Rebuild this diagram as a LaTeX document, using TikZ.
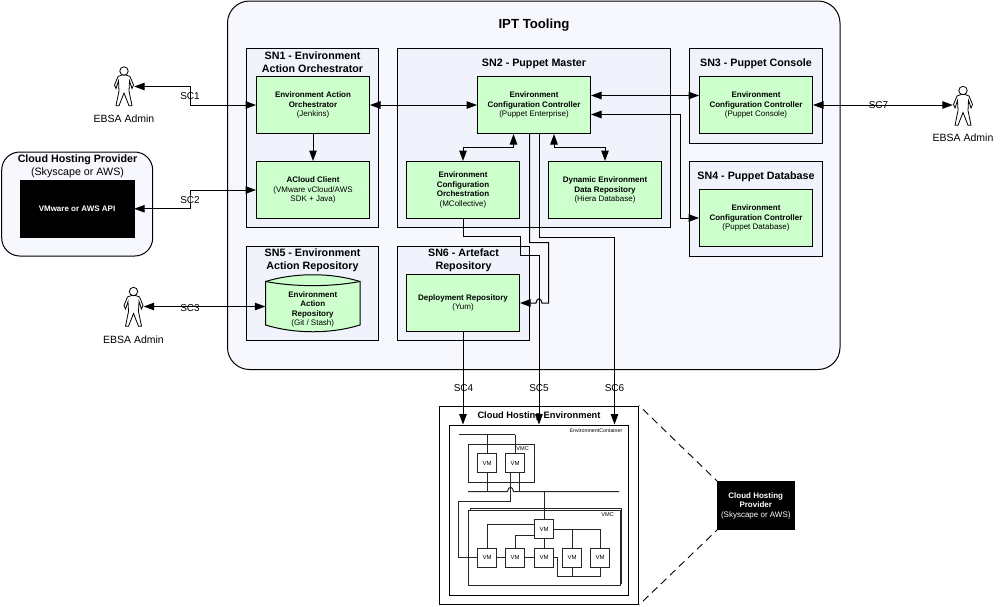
\documentclass[tikz,border=0pt]{standalone}
\usepackage{fontspec}
\setmainfont{Liberation Sans}
\usetikzlibrary{arrows.meta}
\definecolor{outerfill}{HTML}{F7F8FE}
\definecolor{snfill}{HTML}{F0F3FC}
\definecolor{greenfill}{HTML}{CCFFCC}
\tikzset{
  conn/.style={draw=black,line width=1pt,line join=miter},
  head/.style={conn,-{Triangle[length=10.5pt,width=7.5pt]}},
  both/.style={conn,{Triangle[length=10.5pt,width=7.5pt]}-{Triangle[length=10.5pt,width=7.5pt]}},
  wire/.style={draw=black!85,line width=1pt},
  sn/.style={draw=black,line width=1pt,fill=snfill,inner sep=0pt},
  gbox/.style={draw=black,line width=1pt,fill=greenfill,inner sep=0pt,minimum width=113pt,minimum height=57pt,align=center,font=\fontsize{8pt}{9.5pt}\selectfont\bfseries},
  sntitle/.style={inner sep=0pt,align=center,font=\fontsize{10.7pt}{13pt}\selectfont\bfseries},
  sclabel/.style={inner sep=0pt,font=\fontsize{10pt}{12pt}\selectfont},
  adminlabel/.style={inner sep=0pt,font=\fontsize{10.5pt}{12pt}\selectfont},
  blackbox/.style={draw=black,fill=black,text=white,inner sep=0pt,align=center,font=\fontsize{8pt}{9.5pt}\selectfont\bfseries},
  vm/.style={draw=black!85,line width=1pt,fill=white,inner sep=0pt,minimum width=19pt,minimum height=19pt,font=\fontsize{6pt}{7pt}\selectfont},
  vmc/.style={draw=black!85,line width=1pt,fill=white,inner sep=0pt},
  smalllabel/.style={inner sep=0pt,font=\fontsize{5.6pt}{7pt}\selectfont},
  actorport/.style={inner sep=0pt,minimum width=20pt,minimum height=36pt},
  actor/.pic={
    \draw[line width=.8pt,fill=white]
      (-2,4) -- (-6,5.5) -- (-9.5,14) -- (-8,17.5) -- (-5.5,10) -- (-5,20) -- (-8,34.7) -- (-5,34.7) -- (0,22)
      -- (5,34.7) -- (8,34.7) -- (5,20) -- (5.5,10) -- (8,17.5) -- (9.5,14) -- (6,5.5) -- (2,4) -- cycle;
    \draw[line width=.8pt,fill=white] (0,0) circle (4.2pt);
  }
}
\begin{document}
\begin{tikzpicture}[x=1pt,y=-1pt]
\useasboundingbox (0,0) rectangle (1000,606);
% containers
\node[draw=black,line width=1pt,fill=outerfill,rounded corners=22pt,inner sep=0pt,minimum width=612.5pt,minimum height=368.5pt] (ipt) at (533.75,185.25) {};
\node[inner sep=0pt,font=\fontsize{13.2pt}{15pt}\selectfont\bfseries] (ipttitle) at (534,25.5) {IPT Tooling};
\node[sn,minimum width=132pt,minimum height=179.5pt] (sn1) at (312.5,137.75) {};
\node[sn,minimum width=273pt,minimum height=179.5pt] (sn2) at (534,137.75) {};
\node[sn,minimum width=132.5pt,minimum height=94.5pt] (sn3) at (755.75,95.75) {};
\node[sn,minimum width=132.5pt,minimum height=94.5pt] (sn4) at (755.75,208.75) {};
\node[sn,minimum width=132pt,minimum height=94pt] (sn5) at (312.5,293.5) {};
\node[sn,minimum width=132pt,minimum height=94pt] (sn6) at (463.5,293.5) {};
\node[sntitle] (t1) at (312.5,62.5) {SN1 - Environment\\Action Orchestrator};
\node[sntitle] (t2) at (534,63.5) {SN2 - Puppet Master};
\node[sntitle] (t3) at (756,63.5) {SN3 - Puppet Console};
\node[sntitle] (t4) at (756,176.5) {SN4 - Puppet Database};
\node[sntitle] (t5) at (312.5,260.5) {SN5 - Environment\\Action Repository};
\node[sntitle] (t6) at (463.5,260.5) {SN6 - Artefact\\Repository};
% green boxes
\node[gbox] (eao) at (313,105) {Environment Action\\Orchestrator\\\mdseries (Jenkins)};
\node[gbox] (acl) at (313,190) {ACloud Client\\\mdseries (VMware vCloud/AWS\\\mdseries SDK + Java)};
\node[gbox] (ecc) at (534,105) {Environment\\Configuration Controller\\\mdseries (Puppet Enterprise)};
\node[gbox] (mco) at (463,190) {Environment\\Configuration\\Orchestration\\\mdseries (MCollective)};
\node[gbox] (hie) at (605,190) {Dynamic Environment\\Data Repository\\\mdseries (Hiera Database)};
\node[gbox] (gc) at (756,105) {Environment\\Configuration Controller\\\mdseries (Puppet Console)};
\node[gbox] (gd) at (756,218) {Environment\\Configuration Controller\\\mdseries (Puppet Database)};
\node[gbox] (dep) at (463,303) {Deployment Repository\\\mdseries (Yum)};
% cylinder
\draw[line width=1pt,fill=greenfill] (265.5,281.5) .. controls (295,272.5) and (331,272.5) .. (360,281.5) -- (360,325) .. controls (331,334) and (295,334) .. (265.5,325) -- cycle;
\draw[line width=1pt] (265.5,281.5) .. controls (295,287) and (331,287) .. (360,281.5);
\node[inner sep=0pt,minimum width=94.5pt,minimum height=40pt,align=center,font=\fontsize{8pt}{9.5pt}\selectfont\bfseries] (cyl) at (312.75,309.5) {Environment\\Action\\Repository\\\mdseries (Git / Stash)};
% cloud provider
\node[draw=black,line width=1pt,fill=outerfill,rounded corners=18pt,inner sep=0pt,minimum width=151pt,minimum height=104pt] (chp) at (77.2,204) {};
\node[inner sep=0pt,align=center,font=\fontsize{10.7pt}{13pt}\selectfont\bfseries] (chpt) at (77.5,166.5) {Cloud Hosting Provider\\\mdseries (Skyscape or AWS)};
\node[blackbox,minimum width=114pt,minimum height=57.5pt] (api) at (77,208.75) {VMware or AWS API};
% actors
\node[actorport] (a1) at (124,86.5) {};
\pic at (124,71) {actor};
\node[adminlabel] (a1t) at (124,118.5) {EBSA Admin};
\node[actorport] (a3) at (133.5,306.5) {};
\pic at (133.5,291.5) {actor};
\node[adminlabel] (a3t) at (133.5,339.5) {EBSA Admin};
\node[actorport] (a7) at (963,105) {};
\pic at (963,90.5) {actor};
\node[adminlabel] (a7t) at (963,137.5) {EBSA Admin};
% hosting environment
\node[draw=black,line width=1pt,fill=white,inner sep=0pt,minimum width=199pt,minimum height=198.5pt] (cenv) at (539,505.25) {};
\node[inner sep=0pt,font=\fontsize{9.3pt}{12pt}\selectfont\bfseries] (cenvt) at (539,416) {Cloud Hosting Environment};
\node[draw=black,line width=1pt,fill=white,inner sep=0pt,minimum width=179.5pt,minimum height=170pt] (env) at (538.75,510) {};
\node[smalllabel,font=\fontsize{5.3pt}{7pt}\selectfont,anchor=east] (envt) at (622.5,431) {EnvironmentContainer};
\node[vmc,minimum width=66pt,minimum height=38pt] (vmc1) at (501,463) {};
\node[smalllabel,anchor=east] (vmc1t) at (529,449) {VMC};
\node[vmc,minimum width=151.5pt,minimum height=75.5pt] (vmc2b) at (546,546) {};
\node[vmc,minimum width=151.5pt,minimum height=75.5pt] (vmc2) at (544.25,547.75) {};
\node[smalllabel,anchor=east] (vmc2t) at (614,515) {VMC};
\coordinate (bus1l) at (458.5,434.5);
\coordinate (bus1r) at (515,434.5);
\coordinate (bus2l) at (468,491.5);
\coordinate (bus2r) at (619,491.5);
\coordinate (jumpa) at (513.5,491.5);
\coordinate (jumpb) at (507.5,491.5);
\coordinate (w1) at (458.5,501);
\coordinate (k) at (557.5,576);
\node[vm] (vma) at (487,463) {VM};
\node[vm] (vmb) at (515,463) {VM};
\node[vm] (vmt) at (544,529) {VM};
\node[vm] (vm1) at (487,557.5) {VM};
\node[vm] (vm2) at (515,557.5) {VM};
\node[vm] (vm3) at (544,557.5) {VM};
\node[vm] (vm4) at (572,557.5) {VM};
\node[vm] (vm5) at (600,557.5) {VM};
\draw[wire] (bus1l) -- (bus1r);
\draw[wire] (vma.north) -- (vma.north |- bus1l);
\draw[wire] (vmb.north) -- (bus1r);
\draw[wire] (vma.south) -- (vma.south |- bus2l);
\draw[wire] ([xshift=4.5pt]vmb.south) -- ([xshift=4.5pt]vmb.south |- bus2l);
\draw[wire] ([xshift=-4.5pt]vmb.south) |- (w1) |- (vm1.west);
\draw[wire] (bus2l) -- (jumpb) .. controls +(0.5,-5.5) and +(-0.5,-5.5) .. (jumpa) -- (bus2r);
\draw[wire] (vmt.north) -- (vmt.north |- bus2l);
\draw[wire] ([yshift=5pt]vmt.west) -| (vm1.north);
\draw[wire] ([yshift=-6pt]vmt.west) -| (vm2.north);
\draw[wire] (vmt.south) -- (vm3.north);
\draw[wire] (vmt.east) -| (vm5.north);
\draw[wire] (vm4.north) -- (vm4.north |- vmt.east);
\draw[wire] (vm1.east) -- (vm2.west);
\draw[wire] (vm2.east) -- (vm3.west);
\draw[wire] (vm3.east) -| (k) -| (vm5.south);
\draw[wire] (vm4.south) -- (vm4.south |- k);
% zoom callout
\node[blackbox,minimum width=76.5pt,minimum height=48pt] (chpb) at (755.75,505.5) {Cloud Hosting\\Provider\\\mdseries (Skyscape or AWS)};
\draw[line width=.9pt,dash pattern=on 7.5pt off 5pt,dash phase=7pt] (cenv.north east) -- (chpb.north west);
\draw[line width=.9pt,dash pattern=on 7.5pt off 5pt,dash phase=7pt] (cenv.south east) -- (chpb.south west);
% connector bends
\coordinate (j1) at (190.5,95);
\coordinate (j2) at (190,199);
\coordinate (j3) at (490,147.5);
\coordinate (j4) at (554,147.5);
\coordinate (j5) at (680.5,170);
\coordinate (c5a) at (520,236.5);
\coordinate (c5b) at (539,255.5);
\coordinate (c4a) at (548.5,242.5);
\coordinate (c4b) at (542,303);
\coordinate (c4c) at (536,303);
\coordinate (c6a) at (614.5,237);
% connectors
\draw[both] (a1.east) -| (j1) |- (eao.west);
\draw[both] (api.east) -| (j2) |- (acl.west);
\draw[both] (a3.east) -- ([yshift=3pt]cyl.west);
\draw[both] (gc.east) -- (a7.west);
\draw[head] (eao.south) -- (acl.north);
\draw[both] (eao.east) -- (ecc.west);
\draw[both] ([yshift=9.5pt]ecc.east) -- ([yshift=9.5pt]gc.west);
\draw[both] ([yshift=-9.5pt]ecc.east) -| (j5) |- (gd.west);
\draw[both] ([xshift=-20.5pt]ecc.south) |- (j3) -| (mco.north);
\draw[both] ([xshift=20pt]ecc.south) |- (j4) -| (hie.north);
\draw[head] ([xshift=-4.5pt]ecc.south) |- (c4a) |- (c4b) .. controls +(-0.5,-5.5) and +(0.5,-5.5) .. (c4c) -- (dep.east);
\draw[head] ([xshift=5pt]ecc.south) |- (c6a) -- (c6a |- env.north);
\draw[head] (mco.south) |- (c5a) |- (c5b) -- (c5b |- env.north);
\draw[head] (dep.south) -- (dep.south |- env.north);
% connector labels
\node[sclabel] (l1) at (190,96) {SC1};
\node[sclabel] (l2) at (190,200) {SC2};
\node[sclabel] (l3) at (190,308) {SC3};
\node[sclabel] (l4) at (463.5,388) {SC4};
\node[sclabel] (l5) at (539,388) {SC5};
\node[sclabel] (l6) at (614.5,388) {SC6};
\node[sclabel] (l7) at (878.5,105) {SC7};
\end{tikzpicture}
\end{document}
